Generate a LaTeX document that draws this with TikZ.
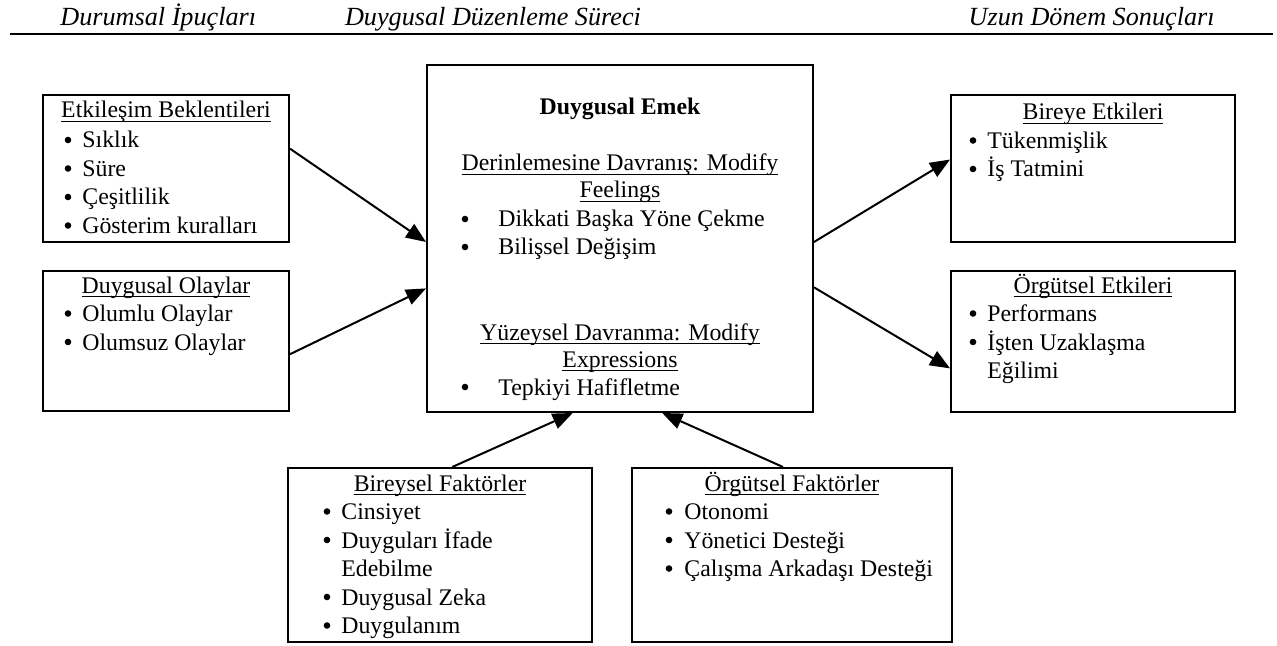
\documentclass[tikz,border=0pt]{standalone}
\usepackage{fontspec}
\setmainfont{Liberation Serif}
\usetikzlibrary{arrows.meta, calc, positioning}

\newsavebox{\ulbox}
\newcommand{\ulined}[1]{\sbox{\ulbox}{#1}\rlap{\rule[-2.2pt]{\wd\ulbox}{0.8pt}}\usebox{\ulbox}}
% bullet dot left of a list line
\newcommand{\dotat}[2][14]{\fill ($(#2.base west)+(-#1,-8)$) circle (1.65pt);}

\begin{document}
\begin{tikzpicture}[x=0.5pt, y=-0.5pt, >={Triangle[length=10pt,width=8pt]},
	font=\fontsize{11.9}{14.25}\selectfont,
	box/.style 2 args={draw, line width=1pt, minimum width=#1*0.5pt, minimum height=#2*0.5pt, inner sep=0pt},
	ln/.style={inner sep=0pt, anchor=base west},
	hd/.style={inner sep=0pt, anchor=base},
	head/.style={inner sep=0pt, font=\fontsize{13.1}{15}\selectfont\itshape},
	arr/.style={->, line width=1pt}]
	\useasboundingbox (0,0) rectangle (1277,646);
	% header row
	\node[head, anchor=base west] (hleft) at (60,26) {Durumsal İpuçları};
	\node[head, anchor=base] (hmid) at (493,26) {Duygusal Düzenleme Süreci};
	\node[head, anchor=base east] (hright) at (1215,26) {Uzun Dönem Sonuçları};
	\draw[line width=1pt] (10,34) -- (1273,34);
	% boxes
	\node[box={246}{147}] (etk) at (166,168.5) {};
	\node[box={246}{140}] (olay) at (166,341) {};
	\node[box={386}{347}] (emek) at (620,238.5) {};
	\node[box={284}{147}] (birey) at (1093,168.5) {};
	\node[box={284}{141}] (orgE) at (1093,341.5) {};
	\node[box={304}{174}] (bfak) at (440,555) {};
	\node[box={320}{174}] (ofak) at (792,555) {};
	% left side
	\node[hd] (etkT) at (166,118) {\ulined{Etkileşim Beklentileri}};
	\foreach \t [count=\i from 0] in {Sıklık, Süre, Çeşitlilik, Gösterim kuralları}{
		\node[ln] (etk\i) at (82,148+28.5*\i) {\t};
		\dotat{etk\i}
	}
	\node[hd] (olayT) at (166,293) {\ulined{Duygusal Olaylar}};
	\foreach \t [count=\i from 0] in {Olumlu Olaylar, Olumsuz Olaylar}{
		\node[ln] (olay\i) at (82,321.5+28.5*\i) {\t};
		\dotat{olay\i}
	}
	% centre
	\node[hd] (emekT) at (620,115) {\bfseries Duygusal Emek};
	\node[hd] (derin1) at (620,171) {\ulined{Derinlemesine Davranış: Modify}};
	\node[hd] (derin2) at (620,198) {\ulined{Feelings}};
	\node[ln] (derin3) at (498,227) {Dikkati Başka Yöne Çekme};
	\node[ln] (derin4) at (498,255) {Bilişsel Değişim};
	\node[hd] (yuz1) at (620,340) {\ulined{Yüzeysel Davranma: Modify}};
	\node[hd] (yuz2) at (620,367) {\ulined{Expressions}};
	\node[ln] (yuz3) at (498,395) {Tepkiyi Hafifletme};
	\dotat[33]{derin3} \dotat[33]{derin4} \dotat[33]{yuz3}
	% right side
	\node[hd] (bireyT) at (1093,120) {\ulined{Bireye Etkileri}};
	\foreach \t [count=\i from 0] in {Tükenmişlik, İş Tatmini}{
		\node[ln] (birey\i) at (987,148.5+28.5*\i) {\t};
		\dotat{birey\i}
	}
	\node[hd] (orgET) at (1093,293) {\ulined{Örgütsel Etkileri}};
	\node[ln] (orgE0) at (987,321.5) {Performans};
	\node[ln] (orgE1) at (987,350) {İşten Uzaklaşma};
	\node[ln] (orgE2) at (987,378.5) {Eğilimi};
	\dotat{orgE0} \dotat{orgE1}
	% bottom
	\node[hd] (bfakT) at (440,491) {\ulined{Bireysel Faktörler}};
	\node[ln] (bfak0) at (341,519.5) {Cinsiyet};
	\node[ln] (bfak1) at (341,548) {Duyguları İfade};
	\node[ln] (bfak2) at (341,576.5) {Edebilme};
	\node[ln] (bfak3) at (341,605) {Duygusal Zeka};
	\node[ln] (bfak4) at (341,633.5) {Duygulanım};
	\dotat{bfak0} \dotat{bfak1} \dotat{bfak3} \dotat{bfak4}
	\node[hd] (ofakT) at (792,491) {\ulined{Örgütsel Faktörler}};
	\foreach \t [count=\i from 0] in {Otonomi, Yönetici Desteği, Çalışma Arkadaşı Desteği}{
		\node[ln] (ofak\i) at (684,519.5+28.5*\i) {\t};
		\dotat[15]{ofak\i}
	}
	% arrows
	\draw[arr] ($(etk.north east)!0.367!(etk.south east)$) -- ($(emek.north west)!0.51!(emek.south west)$);
	\draw[arr] ($(olay.north east)!0.593!(olay.south east)$) -- ($(emek.north west)!0.643!(emek.south west)$);
	\draw[arr] ($(emek.north east)!0.51!(emek.south east)$) -- ($(birey.north west)!0.44!(birey.south west)$);
	\draw[arr] ($(emek.north east)!0.64!(emek.south east)$) -- ($(orgE.north west)!0.688!(orgE.south west)$);
	\draw[arr] ($(bfak.north west)!0.54!(bfak.north east)$) -- ($(emek.south west)!0.378!(emek.south east)$);
	\draw[arr] ($(ofak.north west)!0.472!(ofak.north east)$) -- ($(emek.south west)!0.609!(emek.south east)$);
\end{tikzpicture}
\end{document}
